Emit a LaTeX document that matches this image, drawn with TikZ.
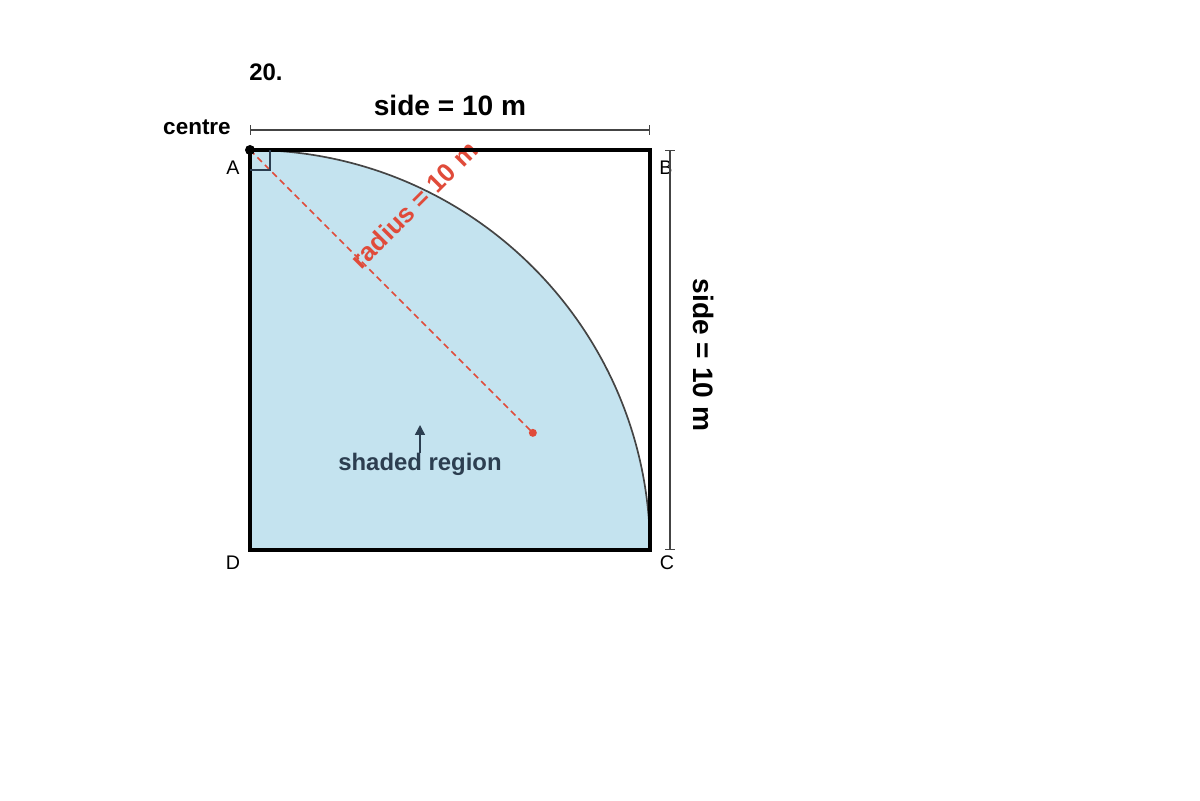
\documentclass[tikz,border=0pt]{standalone}
\usepackage{fontspec}
\setmainfont{Liberation Sans}
\usetikzlibrary{arrows.meta}
\definecolor{regionblue}{HTML}{C4E3EF}
\definecolor{radiusred}{HTML}{E04B3A}
\definecolor{labelnavy}{HTML}{2C3E50}
\definecolor{arcgray}{HTML}{444444}
\tikzset{
  corner/.style={font=\fontsize{14}{16}\selectfont},
  bigbold/.style={font=\bfseries\fontsize{20}{24}\selectfont},
  dimline/.style={arcgray,line width=1pt,{Bar[width=7pt]}-{Bar[width=7pt]}},
}
\begin{document}
\begin{tikzpicture}
    \useasboundingbox (0,0) rectangle (30,20);
    % corners of the square
    \coordinate (A) at (6.25,16.25);
    \coordinate (B) at (16.25,16.25);
    \coordinate (C) at (16.25,6.25);
    \coordinate (D) at (6.25,6.25);
    \coordinate (R) at ([shift={(-45:10)}]A);

    % shaded quarter disc
    \fill[regionblue] (D) -- (A) arc[start angle=90, end angle=0, radius=10] -- cycle;
    \draw[arcgray,line width=1.2pt] (A) arc[start angle=90, end angle=0, radius=10];

    % radius
    \draw[radiusred,line width=1.1pt,dash pattern=on 4.5pt off 3pt] (A) -- (R);
    \fill[radiusred] (R) circle (0.1);
    \node[font=\bfseries\fontsize{18.5}{22}\selectfont,text=radiusred,rotate=45] (radlabel) at (10.35,14.875) {radius = 10 m};

    % square and right angle mark
    \draw[line width=2.3pt] (A) -- (B) -- (C) -- (D) -- cycle;
    \draw[labelnavy,line width=1pt] ([yshift=-0.5cm]A) -| ([xshift=0.5cm]A);
    \fill (A) circle (0.125);

    % corner labels
    \node[corner] (la) at (5.825,15.8) {A};
    \node[corner] (lb) at (16.65,15.8) {B};
    \node[corner] (lc) at (16.675,5.925) {C};
    \node[corner] (ld) at (5.825,5.925) {D};
    \node[font=\bfseries\fontsize{16}{19}\selectfont] (centre) at (4.925,16.825) {centre};
    \node[font=\bfseries\fontsize{17}{20}\selectfont] (num) at (6.65,18.2) {20.};

    % dimensions
    \coordinate (topL) at (6.25,16.75);
    \coordinate (topR) at (16.25,16.75);
    \coordinate (sideT) at (16.75,16.25);
    \coordinate (sideB) at (16.75,6.25);
    \draw[dimline] (topL) -- (topR);
    \draw[dimline] (sideT) -- (sideB);
    \node[bigbold] (toplabel) at (11.25,17.375) {side = 10 m};
    \node[bigbold,rotate=-90] (sidelabel) at (17.6,11.125) {side = 10 m};

    % region label
    \node[font=\bfseries\fontsize{17}{20}\selectfont,text=labelnavy] (shaded) at (10.5,8.4) {shaded region};
    \coordinate (pointer) at (10.5,9.375);
    \draw[labelnavy,line width=1pt,-{Triangle[length=7pt,width=7pt]}] ([yshift=-4pt]shaded.north) -- (pointer);
\end{tikzpicture}
\end{document}
